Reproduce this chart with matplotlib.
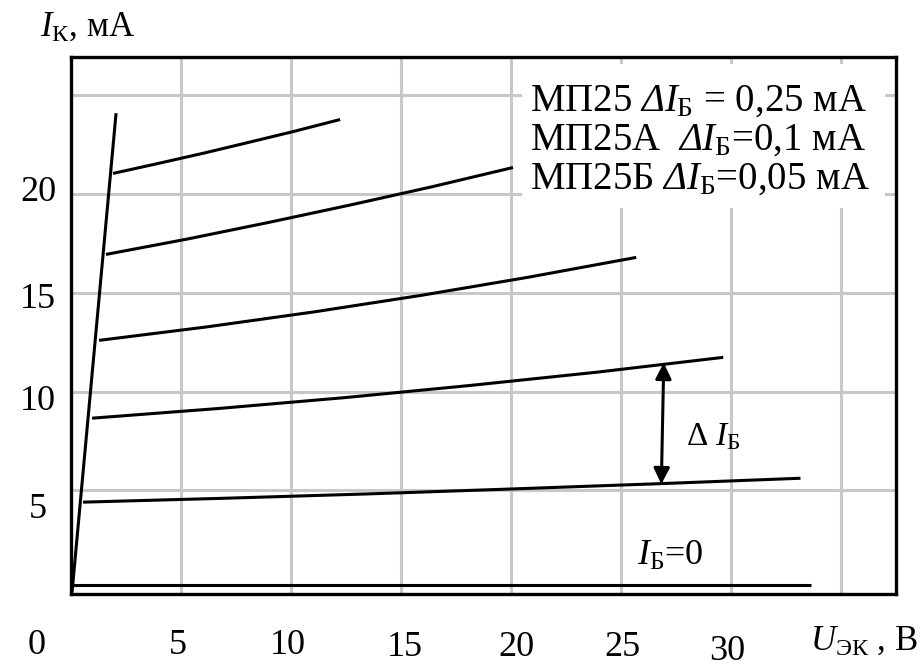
import matplotlib
matplotlib.use('Agg')
import matplotlib.pyplot as plt
from matplotlib.patches import Rectangle

plt.rcParams['font.family'] = ['Liberation Serif', 'DejaVu Serif']
plt.rcParams['mathtext.fontset'] = 'custom'
plt.rcParams['mathtext.rm'] = 'Liberation Serif'
plt.rcParams['mathtext.it'] = 'Liberation Serif:italic'
plt.rcParams['mathtext.sf'] = 'Liberation Serif:italic'

# ---- data (U_EK in V, I_K in mA) ----
steep_u = [0.07, 2.07]
steep_i = [-0.15, 24.1]

c1_u = [1.93, 4.0, 6.06, 8.12, 10.19, 12.25]
c1_i = [21.05, 21.56, 22.08, 22.63, 23.19, 23.78]
c2_u = [1.61, 5.31, 9.0, 12.7, 16.4, 20.1]
c2_i = [16.95, 17.73, 18.57, 19.45, 20.37, 21.35]
c3_u = [1.3, 6.18, 11.06, 15.94, 20.82, 25.7]
c3_i = [12.6, 13.28, 14.04, 14.88, 15.80, 16.8]
c4_u = [0.98, 6.71, 12.45, 18.18, 23.92, 29.65]
c4_i = [8.66, 9.15, 9.70, 10.32, 10.99, 11.74]
c5_u = [0.57, 7.09, 13.61, 20.12, 26.64, 33.16]
c5_i = [4.41, 4.61, 4.83, 5.08, 5.34, 5.62]
c0_u = [0.07, 33.66]
c0_i = [0.21, 0.21]

arrow_top = (26.95, 11.46)
arrow_bot = (26.84, 5.32)

xtick_labels = ['0', '5', '10', '15', '20', '25', '30']
ytick_labels = ['5', '10', '15', '20']
legend_lines = [
    r'МП25 $\mathsf{\Delta}\mathit{I}_{\mathrm{Б}}$ = 0,25 мА',
    r'МП25А  $\mathsf{\Delta}\mathit{I}_{\mathrm{Б}}$=0,1 мА',
    r'МП25Б $\mathsf{\Delta}\mathit{I}_{\mathrm{Б}}$=0,05 мА',
]

# ---- layout (pixels) ----
W, H = 924, 669
fig = plt.figure(figsize=(W / 100, H / 100), dpi=100)
L, R, T, B = 70.5, 896, 56.5, 594
ax = fig.add_axes([L / W, 1 - B / H, (R - L) / W, (B - T) / H])
ax.set_xlim(0, 37.5)
ax.set_ylim(-0.24, 26.97)

def fx(px):
    return px / W

def fy(py):
    return 1 - py / H

ax.set_xticks([5, 10, 15, 20, 25, 30, 35])
ax.set_yticks([5, 10, 15, 20, 25])
ax.tick_params(length=0, labelbottom=False, labelleft=False)
ax.set_axisbelow(True)
ax.grid(True, color='#c8c8c8', lw=2.2)
for s in ax.spines.values():
    s.set_linewidth(2.4)
    s.set_color('black')

# white box behind the legend text
ax.add_patch(Rectangle((20.5, 19.28), 16.48, 7.3, facecolor='white',
                       edgecolor='none', zorder=1))

lw = 2.2
for u, i in [(steep_u, steep_i), (c1_u, c1_i), (c2_u, c2_i), (c3_u, c3_i),
             (c4_u, c4_i), (c5_u, c5_i), (c0_u, c0_i)]:
    ax.plot(u, i, color='black', lw=lw, solid_capstyle='butt',
            solid_joinstyle='round', zorder=3)

ax.annotate('', xy=arrow_top, xytext=arrow_bot,
            arrowprops=dict(arrowstyle='<|-|>', color='black', lw=2.2,
                            mutation_scale=24, shrinkA=0, shrinkB=0), zorder=4)

# texts
fs_tick = 26
xt_px = [37, 178, 288, 405, 516, 622, 727]
xt_py = [646, 646, 646, 647, 647, 648, 651]
for lab, px, py in zip(xtick_labels, xt_px, xt_py):
    fig.text(fx(px), fy(py), lab, ha='center', va='center', fontsize=fs_tick)
yt_py = [510, 402, 299, 192.5]
for lab, py in zip(ytick_labels, yt_py):
    fig.text(fx(38), fy(py), lab, ha='center', va='center', fontsize=fs_tick)

fig.text(fx(40), fy(36), r'$\mathit{I}_{\mathrm{К}}$, мА', ha='left',
         va='baseline', fontsize=25)
fig.text(fx(810), fy(650), r'$\mathit{U}_{\mathrm{ЭК}}$ , В', ha='left',
         va='baseline', fontsize=25)

leg_base = [111, 150, 189]
for line, py in zip(legend_lines, leg_base):
    fig.text(fx(530), fy(py), line, ha='left', va='baseline', fontsize=28,
             zorder=5)

fig.text(fx(637), fy(565), r'$\mathit{I}_{\mathrm{Б}}$=0', ha='left',
         va='baseline', fontsize=26)
fig.text(fx(686), fy(445), r'$\Delta\ \mathit{I}_{\mathrm{Б}}$', ha='left',
         va='baseline', fontsize=24)

fig.savefig('out.png', dpi=100, facecolor='white')
